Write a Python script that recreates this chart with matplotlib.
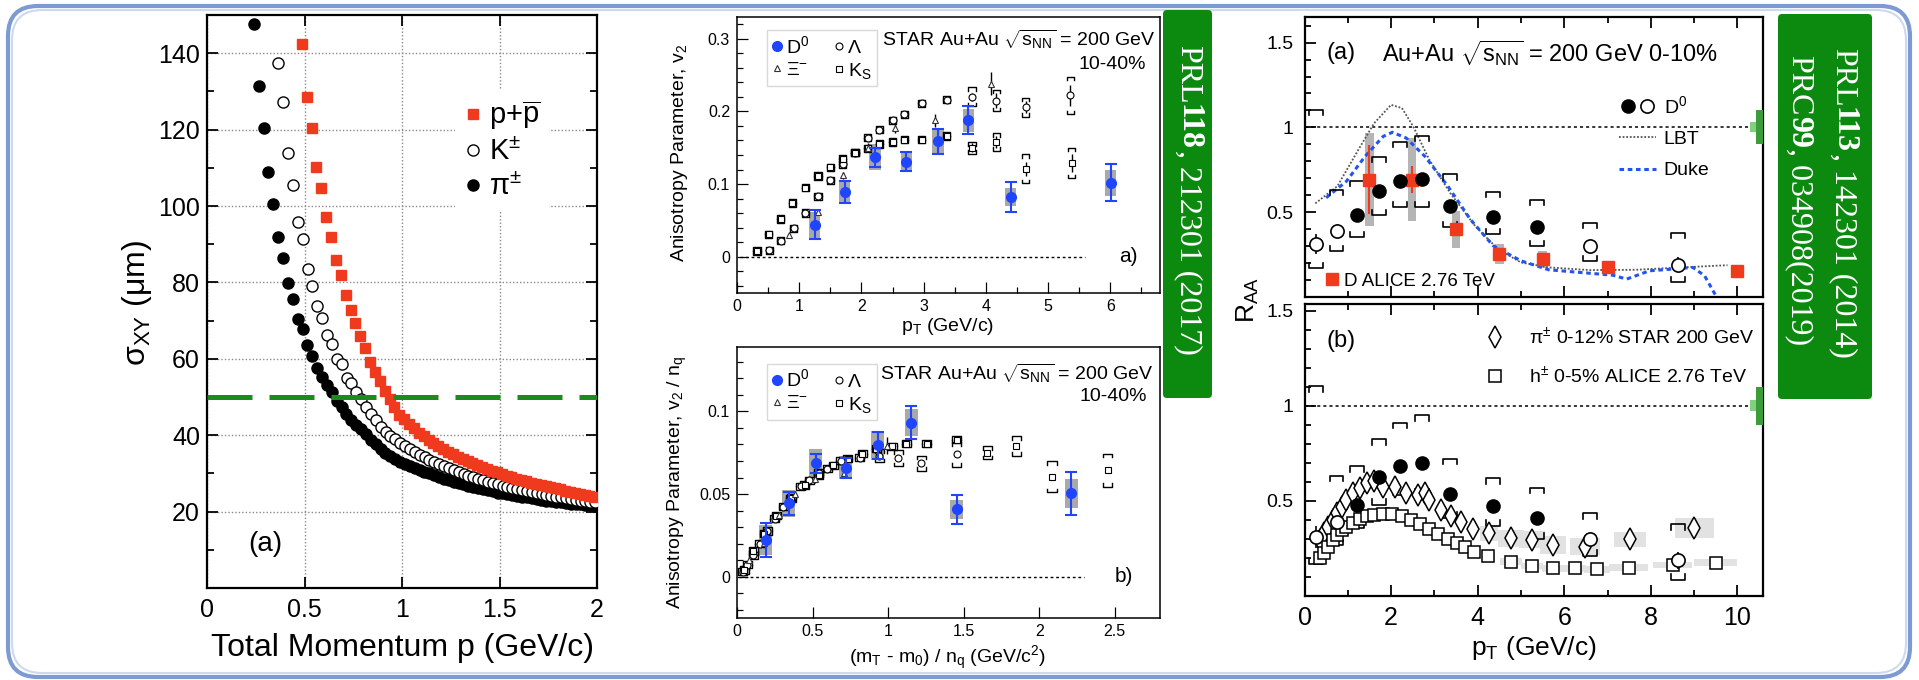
import matplotlib
matplotlib.use('Agg')
import matplotlib.pyplot as plt
from matplotlib.patches import Rectangle, FancyBboxPatch
from matplotlib.ticker import MultipleLocator, FixedLocator, FuncFormatter
from matplotlib.lines import Line2D
from matplotlib.legend_handler import HandlerTuple

plt.rcParams['font.family'] = ['Liberation Sans', 'DejaVu Sans']
plt.rcParams['mathtext.fontset'] = 'custom'
plt.rcParams['mathtext.rm'] = 'Liberation Sans'
plt.rcParams['mathtext.it'] = 'Liberation Sans:italic'
plt.rcParams['mathtext.bf'] = 'Liberation Sans:bold'
plt.rcParams['mathtext.default'] = 'regular'

# ---------------- left: sigma_XY vs total momentum ----------------
p_pi = [0.240, 0.265, 0.290, 0.315, 0.340, 0.365, 0.390, 0.415, 0.440, 0.465,
        0.490, 0.515, 0.540, 0.565, 0.590, 0.615, 0.640, 0.665, 0.690, 0.715,
        0.740, 0.765, 0.790, 0.815, 0.840, 0.865, 0.890, 0.915, 0.940, 0.965,
        0.990, 1.015, 1.040, 1.065, 1.090, 1.115, 1.140, 1.165, 1.190, 1.215,
        1.240, 1.265, 1.290, 1.315, 1.340, 1.365, 1.390, 1.415, 1.440, 1.465,
        1.490, 1.515, 1.540, 1.565, 1.590, 1.615, 1.640, 1.665, 1.690, 1.715,
        1.740, 1.765, 1.790, 1.815, 1.840, 1.865, 1.890, 1.915, 1.940, 1.965, 1.990]
s_pi = [147.7, 131.4, 120.5, 108.9, 100.4, 91.9, 86.5, 79.9, 75.7, 70.5,
        67.7, 63.5, 60.7, 57.5, 55.3, 53.2, 51.3, 49.0, 47.3, 45.6,
        44.1, 42.8, 41.6, 40.2, 38.8, 37.7, 36.5, 35.4, 34.5, 33.7,
        33.0, 32.4, 31.9, 31.4, 30.9, 30.4, 30.0, 29.5, 29.0, 28.6,
        28.2, 27.8, 27.4, 27.1, 26.8, 26.5, 26.2, 25.9, 25.6, 25.3,
        25.0, 24.8, 24.5, 24.3, 24.1, 23.9, 23.7, 23.5, 23.3, 23.1,
        22.9, 22.7, 22.6, 22.4, 22.3, 22.1, 22.0, 21.9, 21.8, 21.6, 21.5]
p_k = [0.366, 0.391, 0.416, 0.441, 0.466, 0.491, 0.516, 0.541, 0.566, 0.591,
       0.616, 0.641, 0.666, 0.691, 0.716, 0.741, 0.766, 0.791, 0.816, 0.841,
       0.866, 0.891, 0.916, 0.941, 0.966, 0.991, 1.016, 1.041, 1.066, 1.091,
       1.116, 1.141, 1.166, 1.191, 1.216, 1.241, 1.266, 1.291, 1.316, 1.341,
       1.366, 1.391, 1.416, 1.441, 1.466, 1.491, 1.516, 1.541, 1.566, 1.591,
       1.616, 1.641, 1.666, 1.691, 1.716, 1.741, 1.766, 1.791, 1.816, 1.841,
       1.866, 1.891, 1.916, 1.941, 1.966, 1.991]
s_k = [137.4, 127.1, 114.0, 105.4, 95.9, 91.3, 83.6, 79.1, 73.9, 70.8,
       66.3, 64.0, 60.0, 58.7, 55.0, 53.6, 51.3, 49.4, 47.3, 45.6,
       43.9, 42.2, 40.8, 39.9, 38.9, 38.0, 37.2, 36.4, 35.6, 34.9,
       34.2, 33.6, 33.0, 32.4, 31.9, 31.3, 30.8, 30.3, 29.9, 29.4,
       29.0, 28.6, 28.2, 27.8, 27.5, 27.1, 26.8, 26.5, 26.2, 25.9,
       25.6, 25.3, 25.1, 24.8, 24.6, 24.4, 24.1, 23.9, 23.7, 23.5,
       23.3, 23.1, 22.9, 22.8, 22.6, 22.4]
p_p = [0.486, 0.511, 0.536, 0.561, 0.586, 0.611, 0.636, 0.661, 0.686, 0.711,
       0.736, 0.761, 0.786, 0.811, 0.836, 0.861, 0.886, 0.911, 0.936, 0.961,
       0.986, 1.011, 1.036, 1.061, 1.086, 1.111, 1.136, 1.161, 1.186, 1.211,
       1.236, 1.261, 1.286, 1.311, 1.336, 1.361, 1.386, 1.411, 1.436, 1.461,
       1.486, 1.511, 1.536, 1.561, 1.586, 1.611, 1.636, 1.661, 1.686, 1.711,
       1.736, 1.761, 1.786, 1.811, 1.836, 1.861, 1.886, 1.911, 1.936, 1.961, 1.986]
s_p = [142.3, 128.6, 120.3, 110.3, 104.6, 97.2, 91.9, 85.9, 81.9, 76.6,
       72.8, 69.4, 66.0, 62.9, 59.2, 56.6, 54.1, 51.5, 49.6, 47.3,
       45.4, 44.2, 43.0, 41.8, 40.7, 39.7, 38.8, 37.9, 37.1, 36.4,
       35.7, 35.0, 34.4, 33.8, 33.2, 32.6, 32.1, 31.6, 31.1, 30.7,
       30.3, 29.8, 29.4, 29.0, 28.6, 28.3, 27.9, 27.6, 27.3, 27.0,
       26.7, 26.4, 26.1, 25.8, 25.5, 25.2, 24.9, 24.6, 24.3, 24.0, 23.7]
sigma_cut = 50

# ---------------- middle a): v2 vs pT ----------------
d0_pt = [1.25, 1.73, 2.22, 2.72, 3.23, 3.72, 4.40, 6.01]
d0_v2 = [0.044, 0.089, 0.137, 0.131, 0.159, 0.188, 0.082, 0.102]
d0_v2_stat = [0.020, 0.015, 0.013, 0.013, 0.017, 0.019, 0.021, 0.025]
d0_v2_sys = [0.018, 0.016, 0.018, 0.014, 0.018, 0.016, 0.012, 0.018]
lam_pt = [0.52, 0.70, 0.91, 1.10, 1.30, 1.50, 1.70, 1.90, 2.10, 2.29, 2.50, 2.69,
          2.97, 3.37, 3.78, 4.17, 4.64, 5.36]
lam_v2 = [0.009, 0.022, 0.039, 0.060, 0.083, 0.105, 0.127, 0.143, 0.164, 0.175,
          0.188, 0.196, 0.211, 0.216, 0.220, 0.215, 0.206, 0.222]
lam_v2_stat = [0.002] * 14 + [0.006, 0.010, 0.008, 0.015]
lam_v2_sys = [0.005] * 14 + [0.013, 0.015, 0.013, 0.026]
ks_pt = [0.32, 0.51, 0.70, 0.89, 1.10, 1.30, 1.50, 1.70, 1.90, 2.10, 2.29, 2.50,
         2.69, 2.97, 3.37, 3.78, 4.17, 4.64, 5.38]
ks_v2 = [0.008, 0.031, 0.052, 0.074, 0.095, 0.111, 0.123, 0.135, 0.143, 0.149,
         0.155, 0.158, 0.161, 0.161, 0.166, 0.150, 0.158, 0.121, 0.129]
ks_v2_stat = [0.002] * 15 + [0.006, 0.008, 0.010, 0.012]
ks_v2_sys = [0.005] * 15 + [0.008, 0.012, 0.020, 0.021]
xi_pt = [0.83, 1.31, 1.70, 2.10, 2.54, 3.19, 4.09]
xi_v2 = [0.030, 0.061, 0.112, 0.150, 0.177, 0.188, 0.238]
xi_v2_stat = [0.003, 0.004, 0.005, 0.006, 0.007, 0.009, 0.016]

# ---------------- middle b): v2/nq vs (mT-m0)/nq ----------------
d0_ket = [0.189, 0.343, 0.522, 0.720, 0.931, 1.152, 1.456, 2.211]
d0_v2n = [0.0222, 0.0444, 0.0685, 0.0659, 0.0794, 0.0933, 0.0407, 0.0504]
d0_v2n_stat = [0.010, 0.007, 0.006, 0.006, 0.008, 0.010, 0.009, 0.013]
d0_v2n_sys = [0.009, 0.008, 0.009, 0.007, 0.009, 0.008, 0.006, 0.009]
lam_ket = [0.038, 0.067, 0.108, 0.150, 0.199, 0.251, 0.306, 0.363, 0.421, 0.477,
           0.541, 0.599, 0.686, 0.811, 0.942, 1.067, 1.219, 1.453]
lam_v2n = [0.0030, 0.0073, 0.0130, 0.0200, 0.0277, 0.0350, 0.0423, 0.0477, 0.0547,
           0.0583, 0.0627, 0.0653, 0.0703, 0.0720, 0.0733, 0.0717, 0.0687, 0.0740]
lam_v2n_sys = [0.0022] * 14 + [0.004, 0.005, 0.0045, 0.0075]
ks_ket = [0.047, 0.107, 0.181, 0.261, 0.355, 0.447, 0.541, 0.637, 0.733, 0.830,
          0.923, 1.026, 1.119, 1.257, 1.455, 1.657, 1.850, 2.085, 2.453]
ks_v2n = [0.0040, 0.0155, 0.0260, 0.0370, 0.0475, 0.0555, 0.0615, 0.0675, 0.0715,
          0.0745, 0.0775, 0.0790, 0.0805, 0.0805, 0.0830, 0.0750, 0.0790, 0.0605, 0.0645]
ks_v2n_sys = [0.0022] * 15 + [0.004, 0.006, 0.0095, 0.010]
xi_ket = [0.080, 0.180, 0.277, 0.387, 0.514, 0.710, 0.992]
xi_v2n = [0.0100, 0.0203, 0.0373, 0.0500, 0.0590, 0.0627, 0.0793]
xi_v2n_stat = [0.0010, 0.0013, 0.0017, 0.0020, 0.0023, 0.0030, 0.0053]

# ---------------- right: RAA ----------------
raa_d0_pt = [1.22, 1.72, 2.21, 2.71, 3.36, 4.36, 5.37]
raa_d0 = [0.480, 0.624, 0.682, 0.698, 0.535, 0.473, 0.412]
raa_d0o_pt = [0.26, 0.74, 6.59, 8.63]
raa_d0o = [0.310, 0.388, 0.300, 0.188]
raa_d0o_stat = [0.060, 0.020, 0.025, 0.045]
raa_all_pt = [0.26, 0.74, 1.22, 1.72, 2.21, 2.71, 3.36, 4.36, 5.37, 6.59, 8.63]
raa_sys_hi = [1.104, 0.633, 0.682, 0.825, 0.912, 0.951, 0.722, 0.620, 0.569, 0.437, 0.378]
raa_sys_lo = [0.167, 0.267, 0.355, 0.480, 0.531, 0.531, 0.412, 0.369, 0.300, 0.212, 0.084]
alice_pt = [1.5, 2.48, 3.5, 4.5, 5.5, 7.0, 10.0]
alice_raa = [0.692, 0.692, 0.398, 0.251, 0.222, 0.173, 0.153]
alice_stat = [0.206, 0.080, 0.030, 0.020, 0.020, 0.015, 0.015]
alice_sys = [0.275, 0.245, 0.108, 0.060, 0.050, 0.030, 0.030]
lbt_pt = [0.25, 0.76, 1.29, 1.61, 2.0, 2.25, 2.51, 2.88, 3.36, 3.94, 4.47, 5.0,
          5.64, 6.59, 7.65, 8.71, 9.77]
lbt_raa = [0.551, 0.653, 0.888, 1.025, 1.133, 1.114, 1.006, 0.81, 0.614, 0.418,
           0.280, 0.202, 0.173, 0.157, 0.159, 0.173, 0.186]
duke_pt = [0.5, 0.97, 1.4, 1.82, 2.03, 2.35, 2.78, 3.31, 3.83, 4.36, 5.0, 5.64,
           6.38, 7.12, 7.44, 7.97, 8.5, 8.97, 9.24, 9.5]
duke_raa = [0.584, 0.682, 0.829, 0.947, 0.971, 0.937, 0.829, 0.653, 0.457, 0.300,
            0.212, 0.159, 0.143, 0.127, 0.104, 0.153, 0.163, 0.173, 0.124, 0.006]
pi_pt = [0.36, 0.44, 0.55, 0.66, 0.76, 0.87, 0.97, 1.13, 1.29, 1.45, 1.61, 1.82,
         2.09, 2.35, 2.62, 2.78, 2.88, 3.15, 3.39, 3.62, 3.89, 4.26, 4.77, 5.26,
         5.74, 6.48, 7.51, 9.0]
pi_raa = [0.295, 0.33, 0.365, 0.40, 0.435, 0.47, 0.505, 0.54, 0.567, 0.593, 0.602,
          0.575, 0.575, 0.54, 0.532, 0.544, 0.505, 0.453, 0.418, 0.391, 0.351, 0.33,
          0.304, 0.295, 0.268, 0.26, 0.298, 0.356]
pi_sys_w = [0.05] * 21 + [0.2, 0.3, 0.3, 0.3, 0.35, 0.37, 0.45]
pi_sys = [0.03] * 21 + [0.04, 0.045, 0.045, 0.045, 0.045, 0.04, 0.052]
h_pt = [0.36, 0.44, 0.55, 0.66, 0.76, 0.87, 0.97, 1.13, 1.29, 1.45, 1.61, 1.82,
        2.03, 2.25, 2.46, 2.67, 2.88, 3.09, 3.31, 3.52, 3.71, 3.92, 4.24, 4.77,
        5.26, 5.74, 6.25, 6.75, 7.49, 8.5, 9.5]
h_raa = [0.198, 0.225, 0.26, 0.295, 0.321, 0.347, 0.365, 0.382, 0.404, 0.418,
         0.426, 0.432, 0.43, 0.421, 0.40, 0.379, 0.351, 0.326, 0.298, 0.277, 0.256,
         0.233, 0.21, 0.181, 0.158, 0.146, 0.146, 0.14, 0.149, 0.163, 0.175]
h_sys_w = [0.05] * 22 + [0.15, 0.25, 0.25, 0.25, 0.25, 0.3, 0.45, 0.45, 0.5]
h_sys = [0.015] * 22 + [0.018] * 9

BLUE = '#1f45ff'
RED = '#f03a1e'
W, H = 1919, 680

fig = plt.figure(figsize=(W / 100, H / 100), dpi=100)


def rect(l, t, r, b):
    return [l / W, 1 - b / H, (r - l) / W, (b - t) / H]


def ftext(x, y, s, **kw):
    return fig.text(x / W, 1 - y / H, s, **kw)


def style(ax, lw, maj, mnr, size, top, right, pad):
    for s in ax.spines.values():
        s.set_linewidth(lw)
    ax.tick_params(which='both', direction='in', top=top, right=right,
                   width=lw * 0.8, labelsize=size, pad=pad)
    ax.tick_params(which='major', length=maj)
    ax.tick_params(which='minor', length=mnr)


def brackets(ax, xs, lo, hi, hw, tk, lw=1.0, z=3):
    for x, l, h in zip(xs, lo, hi):
        ax.plot([x - hw, x - hw, x + hw, x + hw], [h - tk, h, h, h - tk], color='k', lw=lw, zorder=z)
        ax.plot([x - hw, x - hw, x + hw, x + hw], [l + tk, l, l, l + tk], color='k', lw=lw, zorder=z)


def sysboxes(ax, xs, ys, hws, hhs, color, z=1):
    for x, y, w, h in zip(xs, ys, hws, hhs):
        ax.add_patch(Rectangle((x - w, y - h), 2 * w, 2 * h, fc=color, ec='none', zorder=z))


def pm(ys, errs, sign):
    return [y + sign * e for y, e in zip(ys, errs)]


def v2_legend(ax, anchor):
    hdl = [Line2D([], [], ls='', marker='o', color=BLUE, ms=7),
           Line2D([], [], ls='', marker='^', mfc='white', mec='#333333', mew=0.8, ms=5),
           Line2D([], [], ls='', marker='o', mfc='white', mec='k', mew=0.8, ms=5),
           Line2D([], [], ls='', marker='s', mfc='white', mec='k', mew=0.8, ms=5)]
    lab = [r'D$^0$', r'Ξ$^{-}$', 'Λ', r'K$_S$']
    lg = ax.legend(hdl, lab, ncol=2, loc='upper left', bbox_to_anchor=anchor, fontsize=14,
                   frameon=True, fancybox=False, edgecolor='#cfcfcf', facecolor='white',
                   borderpad=0.25, handlelength=0.5, handletextpad=0.2, columnspacing=1.3,
                   labelspacing=0.22, borderaxespad=0)
    lg.get_frame().set_linewidth(1)


gfmt = FuncFormatter(lambda v, pos: '{:g}'.format(round(v, 4)))

# outer frame
for inset, ec, lw in [(0, '#7d9bd2', 3.0), (4, '#cdd9f0', 1.5)]:
    fig.patches.append(FancyBboxPatch(((8 + inset) / 100, (3 + inset) / 100),
                                      (1902 - 2 * inset) / 100, (671 - 2 * inset) / 100,
                                      boxstyle='round,pad=0,rounding_size=0.3',
                                      transform=fig.dpi_scale_trans, fc='none', ec=ec, lw=lw))

# ================= left panel =================
ax = fig.add_axes(rect(207, 15, 597, 588))
ax.set_xlim(0, 2)
ax.set_ylim(0, 150)
ax.set_xticks([0, 0.5, 1, 1.5, 2])
ax.xaxis.set_major_formatter(gfmt)
ax.set_yticks(range(20, 141, 20))
ax.yaxis.set_minor_locator(FixedLocator(range(10, 151, 20)))
style(ax, 1.6, 8, 5, 18, True, True, 5)
ax.tick_params(axis='x', pad=7)
ax.grid(True, which='major', ls=(0, (1, 1.5)), color='#8a8a8a', lw=1)
hpi, = ax.plot(p_pi, s_pi, 'o', color='k', ms=8, zorder=3)
hk, = ax.plot(p_k, s_k, 'o', mfc='white', mec='k', mew=1.0, ms=8, zorder=4)
hp, = ax.plot(p_p, s_p, 's', color=RED, ms=7.5, zorder=5)
ax.axhline(sigma_cut, color='#1d8a1d', lw=3.6, dashes=(9, 3.4), zorder=6)
ax.text(0.297, 11.6, '(a)', ha='center', va='center', fontsize=20)
leg = ax.legend([hp, hk, hpi], [r'p+$\overline{\rm p}$', r'K$^{\pm}$', r'$\pi^{\pm}$'],
                loc='upper left', bbox_to_anchor=(0.636, 0.869), fontsize=21,
                frameon=True, facecolor='white', edgecolor='none', framealpha=1,
                fancybox=False, borderpad=0.3, handlelength=0.6, handletextpad=0.25,
                labelspacing=0.22, borderaxespad=0)
leg.set_zorder(2.5)
ftext(137, 303, r'$\sigma_{XY}$ (μm)', rotation=90, ha='center', va='center', fontsize=23)
ftext(402, 648, 'Total Momentum p (GeV/c)', ha='center', va='center', fontsize=23)

# ================= middle top =================
am = fig.add_axes(rect(737, 17, 1160, 293))
am.set_xlim(0, 6.8)
am.set_ylim(-0.05, 0.33)
am.xaxis.set_major_locator(MultipleLocator(1))
am.xaxis.set_minor_locator(MultipleLocator(0.5))
am.yaxis.set_major_locator(FixedLocator([0, 0.1, 0.2, 0.3]))
am.yaxis.set_minor_locator(MultipleLocator(0.02))
am.xaxis.set_major_formatter(gfmt)
am.yaxis.set_major_formatter(gfmt)
style(am, 1.1, 8, 4.5, 11.5, False, False, 5)
am.tick_params(axis='x', pad=4)
am.hlines(0, 0.05, 5.6, colors='k', linestyles=(0, (2, 2)), lw=1)
sysboxes(am, d0_pt, d0_v2, [0.09] * 8, d0_v2_sys, '#a9a9a9', z=2)
brackets(am, lam_pt, pm(lam_v2, lam_v2_sys, -1), pm(lam_v2, lam_v2_sys, 1), 0.06, 0.005)
brackets(am, ks_pt, pm(ks_v2, ks_v2_sys, -1), pm(ks_v2, ks_v2_sys, 1), 0.06, 0.005)
am.errorbar(lam_pt, lam_v2, yerr=lam_v2_stat, fmt='o', mfc='white', mec='k', ecolor='k',
            mew=0.8, ms=5, elinewidth=1, zorder=4)
am.errorbar(ks_pt, ks_v2, yerr=ks_v2_stat, fmt='s', mfc='white', mec='k', ecolor='k',
            mew=0.8, ms=5, elinewidth=1, zorder=4)
am.errorbar(xi_pt, xi_v2, yerr=xi_v2_stat, fmt='^', mfc='white', mec='#333333',
            ecolor='k', mew=0.8, ms=5, elinewidth=1, zorder=4)
am.errorbar(d0_pt, d0_v2, yerr=d0_v2_stat, fmt='o', color=BLUE, ms=7, capsize=4,
            elinewidth=1.5, capthick=1.5, zorder=5)
am.text(6.72, 0.2987, r'STAR Au+Au $\sqrt{s_{NN}}$ = 200 GeV', ha='right', va='center', fontsize=14)
am.text(6.57, 0.264, '10-40%', ha='right', va='center', fontsize=14)
am.text(6.15, 0.0, 'a)', ha='left', va='center', fontsize=15)
v2_legend(am, (0.072, 0.9525))
ftext(679, 153, r'Anisotropy Parameter, v$_2$', rotation=90, ha='center', va='center', fontsize=14)
ftext(948, 326, r'p$_T$ (GeV/c)', ha='center', va='center', fontsize=14)

# ================= middle bottom =================
bm = fig.add_axes(rect(737, 347, 1160, 618))
bm.set_xlim(0, 2.8)
bm.set_ylim(-0.025, 0.139)
bm.xaxis.set_major_locator(MultipleLocator(0.5))
bm.yaxis.set_major_locator(FixedLocator([0, 0.05, 0.1]))
bm.yaxis.set_minor_locator(MultipleLocator(0.01))
bm.xaxis.set_major_formatter(gfmt)
bm.yaxis.set_major_formatter(gfmt)
style(bm, 1.1, 8, 4.5, 11.5, False, False, 5)
bm.tick_params(axis='x', pad=4)
bm.hlines(0, 0.01, 2.3, colors='k', linestyles=(0, (2, 2)), lw=1)
sysboxes(bm, d0_ket, d0_v2n, [0.043] * 8, d0_v2n_sys, '#a9a9a9', z=2)
brackets(bm, lam_ket, pm(lam_v2n, lam_v2n_sys, -1), pm(lam_v2n, lam_v2n_sys, 1), 0.03, 0.0022)
brackets(bm, ks_ket, pm(ks_v2n, ks_v2n_sys, -1), pm(ks_v2n, ks_v2n_sys, 1), 0.03, 0.0022)
bm.plot(lam_ket, lam_v2n, 'o', mfc='white', mec='k', mew=0.8, ms=5, zorder=4)
bm.plot(ks_ket, ks_v2n, 's', mfc='white', mec='k', mew=0.8, ms=5, zorder=4)
bm.errorbar(xi_ket, xi_v2n, yerr=xi_v2n_stat, fmt='^', mfc='white', mec='#333333',
            ecolor='k', mew=0.8, ms=5, elinewidth=1, zorder=4)
bm.errorbar(d0_ket, d0_v2n, yerr=d0_v2n_stat, fmt='o', color=BLUE, ms=7, capsize=4,
            elinewidth=1.5, capthick=1.5, zorder=5)
bm.text(2.76, 0.123, r'STAR Au+Au $\sqrt{s_{NN}}$ = 200 GeV', ha='right', va='center', fontsize=14)
bm.text(2.713, 0.1089, '10-40%', ha='right', va='center', fontsize=14)
bm.text(2.5, 0.0, 'b)', ha='left', va='center', fontsize=15)
v2_legend(bm, (0.072, 0.938))
ftext(677, 482, r'Anisotropy Parameter, v$_2$ / n$_q$', rotation=90, ha='center', va='center', fontsize=14)
ftext(948, 658, r'(m$_T$ - m$_0$) / n$_q$ (GeV/c$^2$)', ha='center', va='center', fontsize=14)

# ================= right panels =================
ra = fig.add_axes(rect(1304.5, 17.3, 1763, 296.7))
rb = fig.add_axes(rect(1304.5, 304, 1763, 596))
for a_, ymax in [(ra, 1.65), (rb, 1.535)]:
    a_.set_xlim(0, 10.59)
    a_.set_ylim(0, ymax)
    a_.xaxis.set_major_locator(MultipleLocator(2))
    a_.xaxis.set_minor_locator(MultipleLocator(1))
    a_.yaxis.set_major_locator(FixedLocator([0.5, 1, 1.5]))
    a_.yaxis.set_minor_locator(MultipleLocator(0.1))
    a_.xaxis.set_major_formatter(gfmt)
    a_.yaxis.set_major_formatter(gfmt)
    style(a_, 1.6, 8, 4.5, 14, True, False, 8)
    a_.tick_params(axis='x', labelsize=18, pad=7)
    a_.axhline(1, color='k', ls=(0, (2, 2)), lw=1.1, zorder=1)
    a_.add_patch(Rectangle((10.43, 0.9), 0.2, 0.2, fc='#3a9d3a', ec='none', zorder=6))
    a_.add_patch(Rectangle((10.29, 0.97), 0.14, 0.06, fc='#80d080', ec='none', zorder=6))
    brackets(a_, raa_all_pt, raa_sys_lo, raa_sys_hi, 0.16, 0.03, lw=1.2, z=3)
ra.tick_params(axis='x', labelbottom=False)

# (a)
sysboxes(ra, alice_pt, alice_raa, [0.1] * 7, alice_sys, '#b5b5b5', z=1.5)
ra.plot(lbt_pt, lbt_raa, color='#555555', ls=(0, (1, 1)), lw=1.3, zorder=2)
ra.plot(duke_pt, duke_raa, color='#2255ee', ls=(0, (1.5, 1.2)), lw=2.2, zorder=2)
ra.errorbar(alice_pt, alice_raa, yerr=alice_stat, fmt='s', color=RED, ms=8.5,
            elinewidth=1.5, zorder=4)
ra.plot(raa_d0_pt, raa_d0, 'o', color='k', ms=9.5, zorder=5)
ra.errorbar(raa_d0o_pt, raa_d0o, yerr=raa_d0o_stat, fmt='o', mfc='white', mec='k',
            ecolor='k', mew=1.2, ms=9.5, elinewidth=1.2, zorder=5)
ra.text(0.5, 1.437, '(a)', ha='left', va='center', fontsize=17)
ra.text(1.8, 1.437, r'Au+Au $\sqrt{s_{NN}}$ = 200 GeV 0-10%', ha='left', va='center', fontsize=17)
h1 = Line2D([], [], ls='', marker='o', color='k', ms=9.5)
h2 = Line2D([], [], ls='', marker='o', mfc='white', mec='k', mew=1.2, ms=9.5)
h3 = Line2D([], [], color='#555555', ls=(0, (1, 1)), lw=1.3)
h4 = Line2D([], [], color='#2255ee', ls=(0, (1.5, 1.2)), lw=2.2)
lga = ra.legend([(h1, h2), h3, h4], [r'D$^0$', 'LBT', 'Duke'], loc='upper left',
                bbox_to_anchor=(0.686, 0.722), fontsize=14, frameon=False,
                handlelength=1.9, handletextpad=0.4, labelspacing=0.7, borderpad=0,
                borderaxespad=0, handler_map={tuple: HandlerTuple(ndivide=None, pad=0.1)})
ra.add_artist(lga)
h5 = Line2D([], [], ls='', marker='s', color=RED, ms=8.5)
ra.legend([h5], ['D ALICE 2.76 TeV'], loc='center left', bbox_to_anchor=(0.047, 0.056),
          fontsize=13.5, frameon=False, handlelength=0.6, handletextpad=0.35,
          borderpad=0, borderaxespad=0)

# (b)
sysboxes(rb, pi_pt, pi_raa, pi_sys_w, pi_sys, '#e2e2e2', z=1.5)
sysboxes(rb, h_pt, h_raa, h_sys_w, h_sys, '#e2e2e2', z=1.5)
hpb, = rb.plot(pi_pt, pi_raa, 'd', mfc='white', mec='k', mew=1.1, ms=11, zorder=4)
hhb, = rb.plot(h_pt, h_raa, 's', mfc='white', mec='k', mew=1.1, ms=8, zorder=4)
rb.plot(raa_d0_pt, raa_d0, 'o', color='k', ms=9.5, zorder=5)
rb.errorbar(raa_d0o_pt, raa_d0o, yerr=raa_d0o_stat, fmt='o', mfc='white', mec='k',
            ecolor='k', mew=1.2, ms=9.5, elinewidth=1.2, zorder=5)
rb.text(0.5, 1.339, '(b)', ha='left', va='center', fontsize=17)
rb.legend([hpb, hhb], [r'$\pi^{\pm}$ 0-12% STAR 200 GeV', r'h$^{\pm}$ 0-5% ALICE 2.76 TeV'],
          loc='upper left', bbox_to_anchor=(0.383, 0.922), fontsize=14, frameon=False,
          handlelength=1.5, handletextpad=1.0, labelspacing=0.9, borderpad=0, borderaxespad=0)
ftext(1248, 300, r'R$_{AA}$', rotation=90, ha='center', va='center', fontsize=19)
ftext(1534, 648, r'p$_T$ (GeV/c)', ha='center', va='center', fontsize=19)

# ================= green reference boxes =================
for x0, y0, x1, y1 in [(1163, 10, 1212, 398), (1778, 14, 1872, 399)]:
    fig.patches.append(FancyBboxPatch((x0 / 100, (H - y1) / 100), (x1 - x0) / 100, (y1 - y0) / 100,
                                      boxstyle='round,pad=0,rounding_size=0.04',
                                      transform=fig.dpi_scale_trans, fc='#0c8a10', ec='none'))
renderer = fig.canvas.get_renderer()


def vtext(x, y, parts, size):
    for s, bold in parts:
        t = ftext(x, y, s, rotation=270, ha='center', va='top', color='white', fontsize=size,
                  family='Liberation Serif', fontweight='bold' if bold else 'normal')
        y += t.get_window_extent(renderer).height


vtext(1188, 45, [('PRL', False), ('118', True), (', 212301 (2017)', False)], 23)
vtext(1843, 48, [('PRL', False), ('113', True), (', 142301 (2014)', False)], 23)
vtext(1799, 55, [('PRC', False), ('99', True), (', 034908(2019)', False)], 23)

fig.savefig('out.png', dpi=100)
